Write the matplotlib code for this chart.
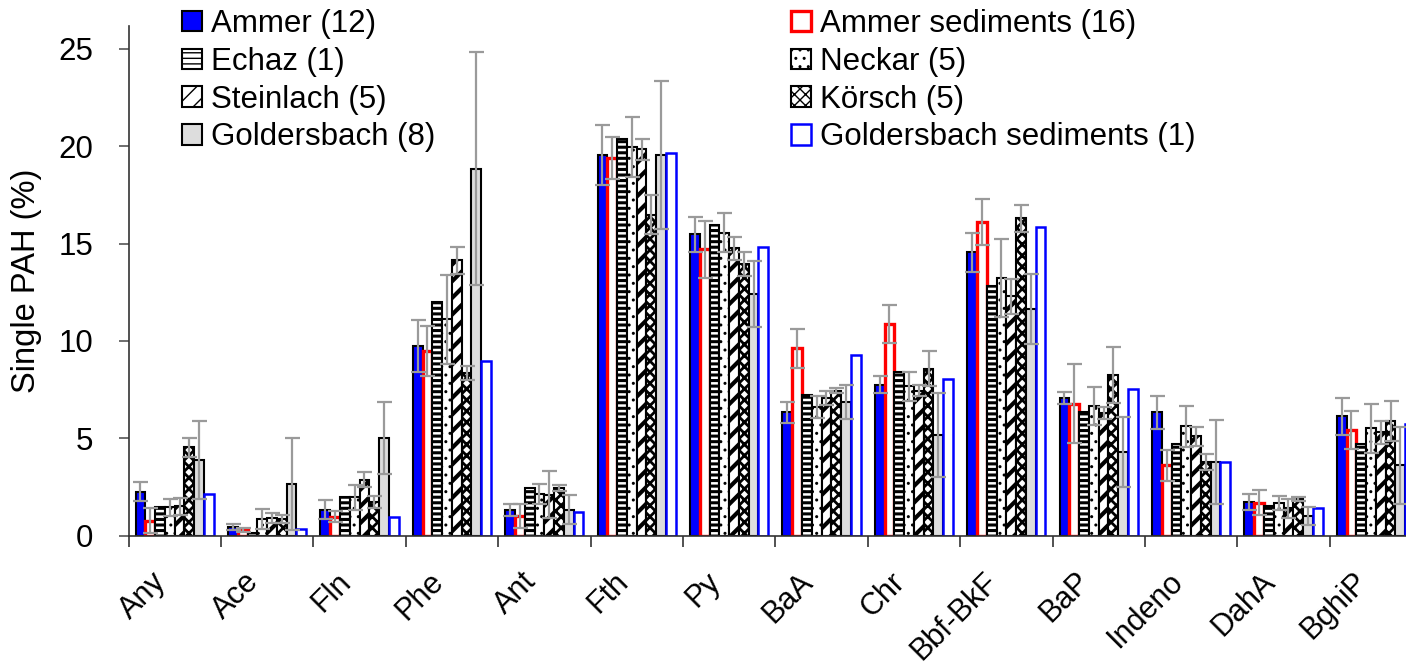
import matplotlib
matplotlib.use("Agg")
import matplotlib.pyplot as plt
import numpy as np
from matplotlib.transforms import ScaledTranslation

plt.rcParams['font.family'] = ['Liberation Sans', 'DejaVu Sans']

# PAH compounds on the x axis
compounds = ["Any", "Ace", "Fln", "Phe", "Ant", "Fth", "Py", "BaA", "Chr",
             "Bbf-BkF", "BaP", "Indeno", "DahA", "BghiP"]

# Mean share of each single PAH (%) per river / sediment type
ammer = [2.25, 0.45, 1.33, 9.72, 1.32, 19.56, 15.47, 6.33, 7.75, 14.55, 7.05, 6.33, 1.73, 6.12]
ammer_sed = [0.77, 0.26, 0.97, 9.48, 1.0, 19.4, 14.7, 9.63, 10.87, 16.12, 6.77, 3.61, 1.68, 5.43]
echaz = [1.45, 0.12, 1.97, 12.0, 2.43, 20.36, 15.98, 7.24, 8.38, 12.83, 6.35, 4.71, 1.5, 4.69]
neckar = [1.45, 0.85, 1.97, 11.1, 2.14, 19.97, 15.55, 6.6, 7.67, 13.23, 6.64, 5.61, 1.66, 5.5]
steinlach = [1.5, 0.9, 2.87, 14.15, 2.1, 19.85, 14.75, 7.07, 7.45, 12.3, 6.3, 5.1, 1.4, 5.3]
koersch = [4.53, 0.85, 1.71, 8.35, 2.43, 16.48, 13.95, 7.45, 8.57, 16.3, 8.25, 3.78, 1.88, 5.9]
goldersbach = [3.9, 2.65, 5.01, 18.85, 1.32, 19.56, 12.4, 6.85, 5.18, 11.65, 4.28, 3.78, 1.0, 3.6]
goldersbach_sed = [2.14, 0.31, 0.94, 8.99, 1.22, 19.66, 14.85, 9.29, 8.04, 15.86, 7.54, 3.78, 1.42, 5.72]

# Standard deviations (None: single sample, no error bar)
ammer_err = [0.5, 0.15, 0.5, 1.33, 0.3, 1.55, 0.9, 0.55, 0.45, 1.0, 0.3, 0.86, 0.4, 0.93]
ammer_sed_err = [0.65, 0.1, 0.27, 1.3, 0.6, 1.1, 1.45, 1.0, 1.0, 1.17, 2.03, 0.8, 0.65, 0.97]
echaz_err = None
neckar_err = [0.45, 0.5, 0.65, 2.3, 0.52, 1.55, 1.0, 0.55, 0.75, 2.0, 0.97, 1.06, 0.37, 1.24]
steinlach_err = [0.45, 0.25, 0.4, 0.7, 1.2, 0.55, 0.58, 0.35, 0.3, 0.9, 0.32, 0.5, 0.5, 0.6]
koersch_err = [0.5, 0.2, 0.3, 0.35, 0.15, 1.0, 0.6, 0.15, 0.9, 0.7, 1.45, 0.4, 0.1, 1.03]
goldersbach_err = [2.0, 2.35, 1.83, 6.0, 0.74, 3.8, 1.7, 0.87, 2.15, 1.8, 1.8, 2.15, 0.45, 2.0]
goldersbach_sed_err = None

labels = ["Ammer (12)", "Ammer sediments (16)", "Echaz (1)", "Neckar (5)",
          "Steinlach (5)", "Körsch (5)", "Goldersbach (8)",
          "Goldersbach sediments (1)"]
values = [ammer, ammer_sed, echaz, neckar, steinlach, koersch, goldersbach, goldersbach_sed]
errors = [ammer_err, ammer_sed_err, echaz_err, neckar_err, steinlach_err,
          koersch_err, goldersbach_err, goldersbach_sed_err]

# Bar styling per series: face, edge, edge width, hatch, hatch width
styles = [
    dict(fc="#0000FF", ec="black", lw=1.5, hatch=None, hlw=1.0),
    dict(fc="white", ec="#FF0000", lw=2.4, hatch=None, hlw=1.0),
    dict(fc="white", ec="black", lw=1.5, hatch="---", hlw=2.2),
    dict(fc="white", ec="black", lw=1.5, hatch="..", hlw=1.0),
    dict(fc="white", ec="black", lw=1.5, hatch="//", hlw=3.0),
    dict(fc="white", ec="black", lw=1.5, hatch="xxx", hlw=2.0),
    dict(fc="#DDDDDD", ec="black", lw=1.5, hatch=None, hlw=1.0),
    dict(fc="white", ec="#0000FF", lw=1.8, hatch=None, hlw=1.0),
]

W, H = 1406, 666
fig = plt.figure(figsize=(W / 100, H / 100), dpi=100)
px_unit = 19.46
ymax = 26.2
ax = fig.add_axes([128.5 / W, (H - 535.5) / H, 14 * 92.4 / W, ymax * px_unit / H])

n = len(values)
bw = 0.106
centers = np.arange(len(compounds)) + 0.5
containers = []
for k, (vals, st) in enumerate(zip(values, styles)):
    xs = centers + (k - (n - 1) / 2) * bw
    with plt.rc_context({"hatch.linewidth": st["hlw"], "hatch.color": st["ec"]}):
        bars = ax.bar(xs, vals, width=bw, facecolor=st["fc"], edgecolor=st["ec"],
                      linewidth=st["lw"], hatch=st["hatch"], zorder=2)
        for p in bars:
            if hasattr(p, "set_hatch_linewidth"):
                p.set_hatch_linewidth(st["hlw"])
    containers.append(bars)

for k, (vals, err) in enumerate(zip(values, errors)):
    if err is None:
        continue
    xs = centers + (k - (n - 1) / 2) * bw
    ax.errorbar(xs, vals, yerr=err, fmt="none", ecolor="#9A9A9A", elinewidth=1.6,
                capsize=5.4, capthick=1.6, zorder=5)

ax.set_xlim(0, 14)
ax.set_ylim(0, ymax)

for side in ("top", "right"):
    ax.spines[side].set_visible(False)
for side in ("left", "bottom"):
    ax.spines[side].set_color("#333333")
    ax.spines[side].set_linewidth(1.2)

ax.set_yticks([0, 5, 10, 15, 20, 25])
ax.tick_params(axis="y", direction="out", length=7.2, width=1.2, color="#555555",
               labelsize=22.5, pad=18)
ax.set_xticks(np.arange(0, 15))
ax.set_xticklabels([])
ax.set_xticks(centers, minor=True)
ax.set_xticklabels(compounds, minor=True, rotation=45, ha="right", va="center",
                   rotation_mode="anchor", fontsize=22)
ax.tick_params(axis="x", which="major", direction="out", length=8, width=1.2, color="#333333")
ax.tick_params(axis="x", which="minor", length=0, pad=30)
shift = ScaledTranslation(-13 / 100, 0, fig.dpi_scale_trans)
for lab in ax.get_xticklabels(minor=True):
    lab.set_transform(lab.get_transform() + shift)

ax.set_ylabel("Single PAH (%)", fontsize=23.5, labelpad=12)

handles = [c for c in containers]
left_idx = [0, 2, 4, 6]
right_idx = [1, 3, 5, 7]
leg_kw = dict(frameon=False, fontsize=22.5, handlelength=0.64, handleheight=0.64,
              handletextpad=0.3, labelspacing=0.25, borderpad=0, borderaxespad=0,
              loc="upper left")
leg1 = fig.legend([handles[i] for i in left_idx], [labels[i] for i in left_idx],
                  bbox_to_anchor=(182 / W, 1 - 9 / H), **leg_kw)
leg2 = fig.legend([handles[i] for i in right_idx], [labels[i] for i in right_idx],
                  bbox_to_anchor=(791 / W, 1 - 9 / H), **leg_kw)

fig.savefig("out.png", dpi=100)
